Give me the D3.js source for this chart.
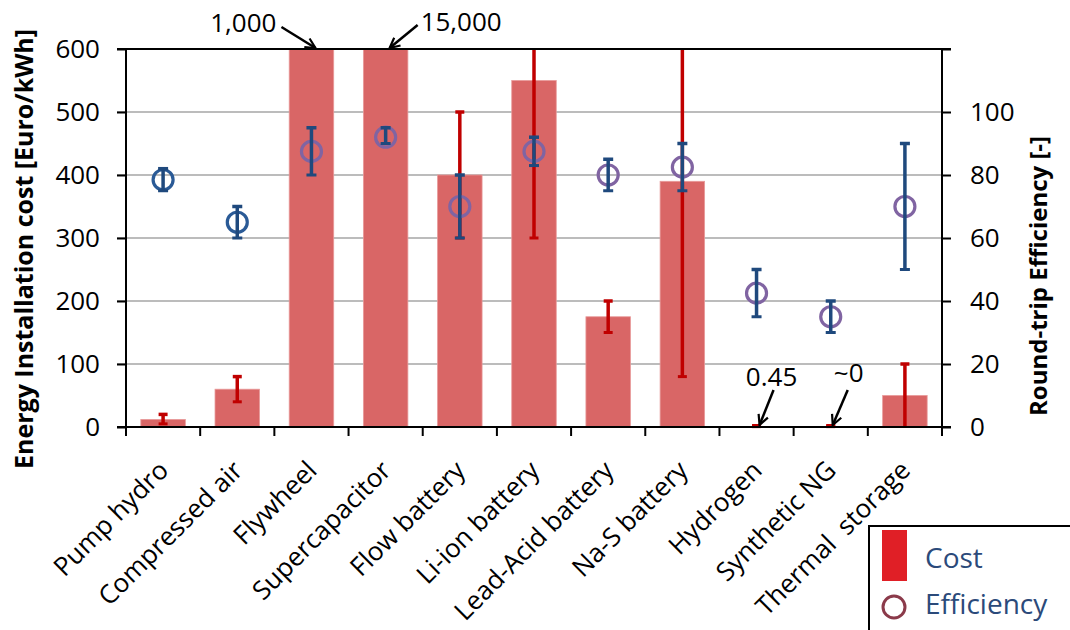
<!DOCTYPE html>
<html><head><meta charset="utf-8">
<script src="https://cdn.jsdelivr.net/npm/d3@7/dist/d3.min.js"></script>
<style>
body{margin:0;background:#fff;}
text{font-family:"Open Sans",sans-serif;}
</style></head>
<body><svg id="c" width="1070" height="630"></svg>
<script>
const categories = ["Pump hydro","Compressed air","Flywheel","Supercapacitor","Flow battery","Li-ion battery","Lead-Acid battery","Na-S battery","Hydrogen","Synthetic NG","Thermal  storage"];
const cost      = [12, 60, 1000, 15000, 400, 550, 175, 390, 0.45, 0.05, 50];
const costLow   = [5, 40, null, null, 300, 300, 150, 80, 0, 0, 0];
const costHigh  = [20, 80, null, null, 500, 800, 200, 800, 1, 1, 100];
const eff       = [78.5, 65, 87.5, 92, 70, 87.5, 80, 82.5, 42.5, 35, 70];
const effLow    = [75, 60, 80, 90, 60, 83, 75, 75, 35, 30, 50];
const effHigh   = [82, 70, 95, 95, 80, 92, 85, 90, 50, 40, 90];
const costTicks = [0,100,200,300,400,500,600];
const effTicks  = [0,20,40,60,80,100,120];
const annotations = [
  {cat:"Flywheel", label:"1,000"},
  {cat:"Supercapacitor", label:"15,000"},
  {cat:"Hydrogen", label:"0.45"},
  {cat:"Synthetic NG", label:"~0"}
];

const svg = d3.select("#c");
const L = 126, R = 942, T = 49, B = 427;
const FS = 26;
const x = d3.scaleBand().domain(categories).range([L, R]).paddingInner(0).paddingOuter(0);
const yL = d3.scaleLinear().domain([0, 600]).range([B, T]).clamp(true);
const yR = d3.scaleLinear().domain([0, 120]).range([B, T]).clamp(true);
const cx = c => x(c) + x.bandwidth()/2;

// gridlines
svg.append("g").selectAll("line").data(costTicks.filter(d=>d>0 && d<600)).join("line")
  .attr("x1", L-9).attr("x2", R).attr("y1", d=>yL(d)).attr("y2", d=>yL(d))
  .attr("stroke", "#a6a6a6").attr("stroke-width", 1.5);

// bars
const bw = x.bandwidth()*0.6;
svg.append("g").selectAll("rect").data(categories).join("rect")
  .attr("x", c => cx(c) - bw/2)
  .attr("width", bw)
  .attr("y", (c,i) => yL(cost[i]))
  .attr("height", (c,i) => B - yL(cost[i]))
  .attr("fill", "#d96666")
  .attr("stroke", "#e89a9a").attr("stroke-width", 0.8);

// error bars helper
function errBars(g, lo, hi, scale, color, capW){
  categories.forEach((c,i)=>{
    if(lo[i]==null) return;
    const X = cx(c), y1 = scale(lo[i]), y2 = scale(hi[i]);
    g.append("line").attr("x1",X).attr("x2",X).attr("y1",y1).attr("y2",y2)
      .attr("stroke",color).attr("stroke-width",3.5);
    if(hi[i] <= scale.domain()[1]) g.append("line").attr("x1",X-capW/2).attr("x2",X+capW/2).attr("y1",y2).attr("y2",y2).attr("stroke",color).attr("stroke-width",3.5);
    if(lo[i] > 0 || hi[i] <= 1) g.append("line").attr("x1",X-capW/2).attr("x2",X+capW/2).attr("y1",Math.min(y1,B-1.5)).attr("y2",Math.min(y1,B-1.5)).attr("stroke",color).attr("stroke-width",3);
  });
}
errBars(svg.append("g"), costLow, costHigh, yL, "#c00000", 9);

// efficiency circles
svg.append("g").selectAll("circle").data(categories).join("circle")
  .attr("cx", c => cx(c)).attr("cy", (c,i) => yR(eff[i])).attr("r", 10)
  .attr("fill", "none")
  .attr("stroke", (c,i) => i < 2 ? "#2a5a96" : "#8064a2")
  .attr("stroke-width", 3.2);
errBars(svg.append("g"), effLow, effHigh, yR, "#1f497d", 10);

// axes
const axL = svg.append("g").attr("transform",`translate(${L},0)`)
  .call(d3.axisLeft(yL).tickValues(costTicks).tickSize(9).tickPadding(17).tickFormat(d3.format("d")));
const axR = svg.append("g").attr("transform",`translate(${R},0)`)
  .call(d3.axisRight(yR).tickValues(effTicks).tickSize(9).tickPadding(19).tickFormat(d => d===120 ? "" : d));
[axL, axR].forEach(a=>{
  a.select(".domain").remove();
  a.selectAll(".tick line").attr("stroke","#000").attr("stroke-width",2);
  a.selectAll(".tick text").attr("font-size",FS).attr("fill","#000").attr("font-family","'Open Sans', sans-serif");
});
// axis lines
svg.append("line").attr("x1",L).attr("x2",L).attr("y1",T).attr("y2",B).attr("stroke","#000").attr("stroke-width",2);
svg.append("line").attr("x1",R).attr("x2",R).attr("y1",T).attr("y2",B+9).attr("stroke","#000").attr("stroke-width",2);
svg.append("line").attr("x1",L-9).attr("x2",R+9).attr("y1",T).attr("y2",T).attr("stroke","#000").attr("stroke-width",2);
svg.append("line").attr("x1",L-9).attr("x2",R+9).attr("y1",B).attr("y2",B).attr("stroke","#000").attr("stroke-width",2);

// bottom axis
const axB = svg.append("g").attr("transform",`translate(0,${B})`)
  .call(d3.axisBottom(x).tickSize(0).tickFormat(""));
axB.select(".domain").remove();
const bounds = categories.map(c=>x(c)).concat([R]);
svg.append("g").selectAll("line").data(bounds).join("line")
  .attr("x1",d=>d).attr("x2",d=>d).attr("y1",B).attr("y2",B+9)
  .attr("stroke","#000").attr("stroke-width",2);
svg.append("g").selectAll("text").data(categories).join("text")
  .attr("transform", c => `translate(${cx(c)+7},${B+45}) rotate(-45)`)
  .attr("text-anchor","end")
  .style("white-space","pre")
  .attr("font-size",FS).attr("fill","#000")
  .text(c=>c);

// axis titles
svg.append("text").attr("transform",`translate(33,${249}) rotate(-90)`)
  .attr("text-anchor","middle").attr("font-size",25).attr("font-weight","bold").attr("fill","#000")
  .text("Energy Installation cost [Euro/kWh]");
svg.append("text").attr("transform",`translate(1047,${276}) rotate(-90)`)
  .attr("text-anchor","middle").attr("font-size",24).attr("font-weight","bold").attr("fill","#000")
  .text("Round-trip Efficiency [-]");

// annotations
const defs = svg.append("defs");
defs.append("marker").attr("id","arr").attr("viewBox","0 0 12 12").attr("refX",11).attr("refY",6)
  .attr("markerWidth",12).attr("markerHeight",12).attr("markerUnits","userSpaceOnUse").attr("orient","auto")
  .append("path").attr("d","M1,1 L11,6 L1,11").attr("fill","none").attr("stroke","#000").attr("stroke-width",2.2);
const ann = svg.append("g");
function arrow(x1,y1,x2,y2){
  ann.append("line").attr("x1",x1).attr("y1",y1).attr("x2",x2).attr("y2",y2)
    .attr("stroke","#000").attr("stroke-width",2.5).attr("marker-end","url(#arr)");
}
{ const X = cx("Flywheel")+4; arrow(X-34, 27, X, T-1);
  ann.append("text").attr("x",X-39).attr("y",32).attr("text-anchor","end").attr("font-size",FS).text(annotations[0].label); }
{ const X = cx("Supercapacitor")+4; arrow(X+28, 25, X, T-1);
  ann.append("text").attr("x",X+31).attr("y",31).attr("text-anchor","start").attr("font-size",FS).text(annotations[1].label); }
{ const X = cx("Hydrogen")+3; arrow(X+14, 390, X, B-2);
  ann.append("text").attr("x",X+12).attr("y",386).attr("text-anchor","middle").attr("font-size",FS).text(annotations[2].label); }
{ const X = cx("Synthetic NG")+2; arrow(X+15, 390, X, B-2);
  ann.append("text").attr("x",X+16).attr("y",382).attr("text-anchor","middle").attr("font-size",FS).text(annotations[3].label); }

// legend
const lg = svg.append("g");
lg.append("rect").attr("x",869).attr("y",526).attr("width",210).attr("height",120)
  .attr("fill","#fff").attr("stroke","#000").attr("stroke-width",2);
lg.append("rect").attr("x",882).attr("y",530).attr("width",25).attr("height",51).attr("fill","#e01f26");
lg.append("text").attr("x",925).attr("y",568).attr("font-size",28).attr("fill","#2b4a7a").text("Cost");
lg.append("circle").attr("cx",894).attr("cy",607).attr("r",11).attr("fill","none").attr("stroke","#8b3a4a").attr("stroke-width",3);
lg.append("text").attr("x",925).attr("y",614).attr("font-size",28).attr("fill","#2b4a7a").text("Efficiency");
</script></body></html>
